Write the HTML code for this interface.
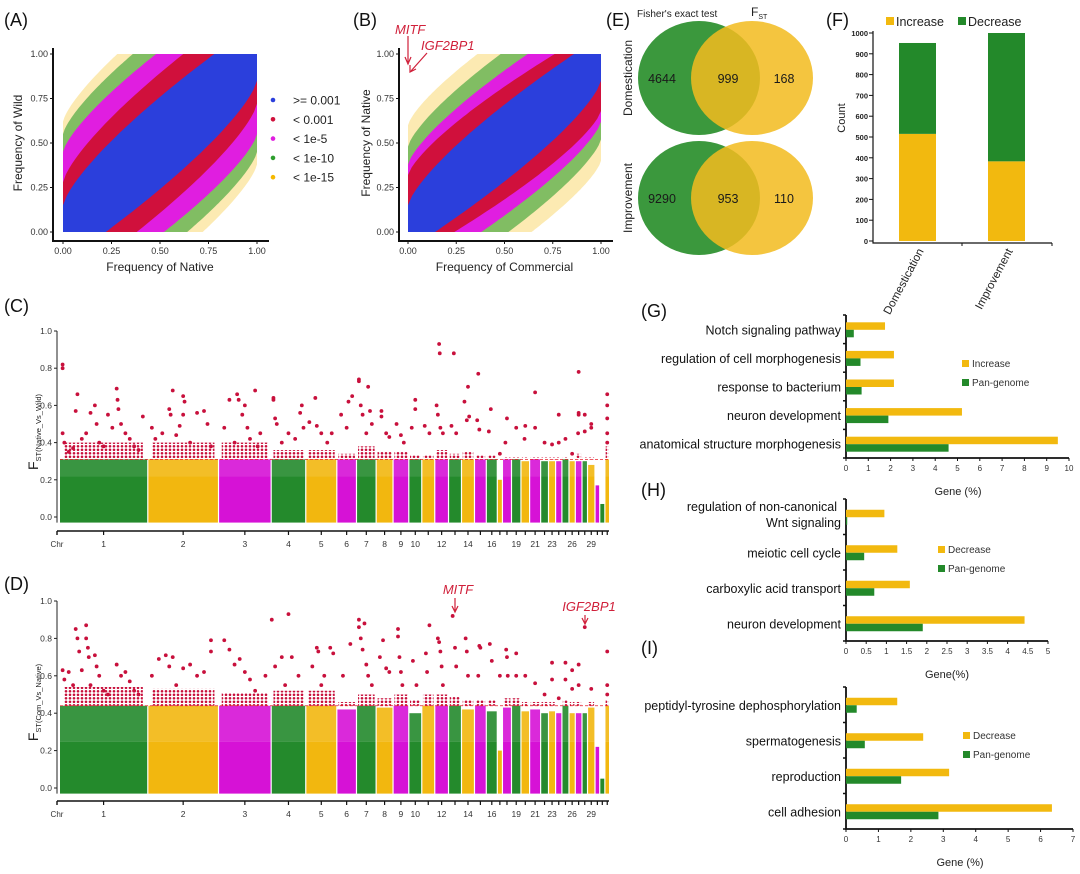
<!DOCTYPE html>
<html><head><meta charset="utf-8"><style>
body{margin:0;background:#fff;}
svg{display:block;font-family:"Liberation Sans",Arial,sans-serif;}
</style></head><body>
<svg id="fig" width="1080" height="874" viewBox="0 0 1080 874" xmlns="http://www.w3.org/2000/svg">
<defs>
<pattern id="redDots" width="4" height="3.5" patternUnits="userSpaceOnUse"><circle cx="2" cy="1.75" r="1.3" fill="#c8103c"/></pattern>
</defs>
<rect width="1080" height="874" fill="#fff"/>
</svg>
<script>
// ---------- DATA ----------
const bandLevels = ["< 1e-15","< 1e-10","< 1e-5","< 0.001",">= 0.001"];
const bandColors = ["#f5b800","#2e9e2e","#e01ee0","#d0103c","#2b3fdc"];
const bandOpacity = [0.3,0.6,1,1,1];
const aBandStartY = [0.62,0.55,0.45,0.28,0.15];
const aBandEndX   = [0.28,0.36,0.48,0.62,0.78];
const bBandStartY = [0.60,0.48,0.38,0.32,0.15];
const bBandEndX   = [0.36,0.48,0.62,0.76,0.86];
const vennDomestication = [4644,999,168];
const vennImprovement = [9290,953,110];
const fCats = ["Domestication","Improvement"];
const fIncrease = [515,383];
const fDecrease = [437,617];
const fTicks = [0,100,200,300,400,500,600,700,800,900,1000];
const gCats = ["Notch signaling pathway","regulation of cell morphogenesis","response to bacterium","neuron development","anatomical structure morphogenesis"];
const gInc = [1.75,2.15,2.15,5.2,9.5];
const gPan = [0.35,0.65,0.7,1.9,4.6];
const gTicks = [0,1,2,3,4,5,6,7,8,9,10];
const hCats = [["regulation of non-canonical","Wnt signaling"],["meiotic cell cycle"],["carboxylic acid transport"],["neuron development"]];
const hDec = [0.95,1.27,1.58,4.42];
const hPan = [0.03,0.45,0.7,1.9];
const hTicks = [0,0.5,1,1.5,2,2.5,3,3.5,4,4.5,5];
const iCats = ["peptidyl-tyrosine dephosphorylation","spermatogenesis","reproduction","cell adhesion"];
const iDec = [1.58,2.38,3.18,6.35];
const iPan = [0.33,0.58,1.7,2.85];
const iTicks = [0,1,2,3,4,5,6,7];
const chrLen = [222,177,131,85,76,47,47,40,37,30,30,32,30,30,27,25,10,20,21,19,25,17,15,13,15,13,14,11,16,9,10,9];
const chrLabels = ["1","2","3","4","5","6","7","8","9","10","","12","","14","","16","","","19","","21","","23","","","26","","","29","","",""];
const cMax = [.31,.31,.31,.31,.31,.31,.31,.31,.31,.31,.31,.31,.31,.31,.31,.31,.2,.31,.31,.3,.31,.3,.3,.3,.31,.3,.3,.3,.28,.17,.07,.31];
const dMax = [.44,.44,.44,.44,.44,.42,.44,.43,.44,.40,.44,.44,.44,.42,.44,.41,.2,.43,.44,.41,.42,.40,.41,.40,.44,.40,.40,.40,.43,.22,.05,.44];
const cBand = [.40,.40,.40,.36,.36,.34,.38,.35,.35,.33,.33,.36,.34,.35,.33,.33,.31,.32,.32,.32,.32,.32,.32,.32,.32,.31,.34,.32,.32,.31,.31,.38];
const dBand = [.54,.53,.51,.52,.52,.46,.5,.48,.5,.47,.5,.5,.49,.47,.47,.47,.44,.48,.48,.46,.46,.46,.46,.44,.47,.46,.46,.44,.46,.44,.44,.47];
const cThresh = 0.31, dThresh = 0.44;
const cPts = [[1,.03,.45],[1,.03,.82],[1,.03,.8],[1,.05,.4],[1,.1,.35],[1,.15,.37],[1,.2,.66],[1,.18,.57],[1,.25,.42],[1,.3,.45],[1,.35,.56],[1,.4,.6],[1,.42,.5],[1,.45,.4],[1,.5,.38],[1,.55,.55],[1,.6,.48],[1,.65,.69],[1,.66,.63],[1,.67,.58],[1,.7,.5],[1,.75,.45],[1,.8,.42],[1,.85,.38],[1,.9,.36],[1,.95,.54],
[2,.05,.48],[2,.1,.42],[2,.2,.45],[2,.3,.58],[2,.32,.55],[2,.35,.68],[2,.4,.44],[2,.45,.49],[2,.5,.55],[2,.5,.65],[2,.52,.62],[2,.6,.4],[2,.7,.56],[2,.8,.57],[2,.85,.5],[2,.9,.38],
[3,.1,.48],[3,.2,.63],[3,.35,.66],[3,.38,.63],[3,.5,.6],[3,.45,.55],[3,.55,.48],[3,.7,.68],[3,.6,.42],[3,.8,.45],[3,.3,.4],[3,.75,.38],
[4,.05,.64],[4,.05,.63],[4,.1,.53],[4,.15,.5],[4,.3,.4],[4,.5,.45],[4,.7,.42],[4,.85,.56],[4,.9,.6],[4,.95,.48],
[5,.1,.51],[5,.3,.64],[5,.35,.49],[5,.5,.45],[5,.7,.4],[5,.85,.45],
[6,.2,.55],[6,.5,.48],[6,.6,.62],[6,.8,.65],[7,.1,.74],[7,.1,.73],[7,.6,.7],[7,.2,.6],[7,.3,.55],[7,.7,.57],[7,.8,.5],[7,.5,.45],
[8,.3,.57],[8,.3,.54],[8,.6,.45],[8,.8,.43],[9,.2,.5],[9,.5,.44],[9,.7,.4],[10,.2,.48],[10,.5,.63],[10,.5,.58],[11,.2,.49],[11,.6,.45],
[12,.3,.93],[12,.35,.88],[12,.1,.6],[12,.2,.55],[12,.4,.48],[12,.6,.45],[13,.4,.88],[13,.2,.49],[13,.6,.45],
[14,.2,.62],[14,.5,.7],[14,.6,.54],[14,.4,.52],[15,.3,.77],[15,.2,.52],[15,.4,.47],[16,.2,.46],[16,.4,.58],[17,.5,.34],[18,.5,.53],[18,.3,.4],
[19,.5,.48],[20,.5,.49],[20,.4,.42],[21,.5,.67],[21,.5,.48],[22,.5,.4],[23,.5,.39],[24,.5,.55],[24,.5,.4],[25,.5,.42],[26,.5,.34],
[27,.5,.78],[27,.5,.56],[27,.5,.55],[27,.4,.45],[28,.5,.55],[28,.5,.46],[29,.5,.5],[29,.5,.48],[32,.5,.66],[32,.5,.6],[32,.5,.53],[32,.5,.45],[32,.5,.4]];
const dPts = [[1,.03,.63],[1,.05,.58],[1,.1,.62],[1,.15,.55],[1,.18,.85],[1,.2,.8],[1,.22,.73],[1,.3,.87],[1,.3,.8],[1,.32,.75],[1,.33,.7],[1,.25,.63],[1,.35,.55],[1,.4,.71],[1,.42,.65],[1,.45,.6],[1,.5,.52],[1,.55,.5],[1,.65,.66],[1,.7,.6],[1,.75,.62],[1,.8,.57],[1,.85,.52],[1,.9,.5],
[2,.05,.6],[2,.15,.69],[2,.25,.71],[2,.3,.65],[2,.35,.7],[2,.4,.55],[2,.5,.64],[2,.6,.66],[2,.7,.6],[2,.8,.62],[2,.9,.79],[2,.9,.73],
[3,.1,.79],[3,.2,.74],[3,.3,.66],[3,.4,.69],[3,.5,.62],[3,.6,.58],[3,.7,.52],[3,.9,.6],[4,.0,.9],[4,.1,.65],[4,.3,.7],[4,.5,.93],[4,.6,.7],[4,.8,.6],[4,.4,.55],
[5,.2,.65],[5,.35,.75],[5,.4,.73],[5,.6,.6],[5,.8,.75],[5,.9,.72],[5,.5,.55],[6,.3,.6],[6,.7,.77],[7,.1,.9],[7,.1,.86],[7,.4,.88],[7,.2,.8],[7,.3,.74],[7,.5,.66],[7,.6,.6],[7,.8,.55],
[8,.4,.79],[8,.2,.7],[8,.6,.64],[8,.8,.62],[9,.3,.85],[9,.3,.81],[9,.4,.7],[9,.5,.62],[9,.6,.55],[10,.3,.68],[10,.6,.55],[11,.3,.72],[11,.6,.87],[11,.4,.62],
[12,.2,.8],[12,.3,.78],[12,.4,.73],[12,.5,.65],[12,.6,.55],[13,.3,.92],[13,.5,.75],[13,.6,.65],[14,.3,.8],[14,.4,.73],[14,.5,.6],[15,.4,.76],[15,.5,.75],[15,.3,.6],
[16,.3,.77],[16,.5,.68],[17,.5,.6],[18,.4,.74],[18,.5,.7],[18,.6,.6],[19,.5,.72],[19,.5,.6],[20,.5,.6],[21,.5,.56],[22,.5,.5],[23,.5,.67],[23,.5,.58],[24,.5,.48],
[25,.5,.67],[25,.5,.58],[26,.5,.63],[26,.5,.53],[27,.5,.66],[27,.5,.55],[28,.5,.86],[29,.5,.53],[32,.5,.73],[32,.5,.55],[32,.5,.5]];
const chrColors = ["#248a2c","#f2b70f","#d612d6"];

// ---------- HELPERS ----------
const NS="http://www.w3.org/2000/svg";
const svg=document.getElementById('fig');
function mk(tag,attrs,parent,txt){const e=document.createElementNS(NS,tag);for(const k in attrs)e.setAttribute(k,attrs[k]);if(txt!==undefined)e.textContent=txt;(parent||svg).appendChild(e);return e;}
function grp(name){const g=mk('g',{});


return g;}
function txt(parent,x,y,s,size,name,extra){const t=mk('text',Object.assign({x:x,y:y,'font-size':size,fill:'#111'},extra||{}),parent,s);


return t;}

// ---------- PANEL A & B ----------
function scatterPanel(name,L,x0,x1,y0,y1,startY,endX,axisX,axisY,xTitle,yTitle,yTitleX){
  const g=grp(name);
  const sx=v=>x0+(x1-x0)*v, sy=v=>y0+(y1-y0)*v;
  const N=40, p=0.75;
  for(let k=0;k<startY.length;k++){
    const a=startY[k], b=endX[k];
    const up=[], lo=[];
    for(let i=0;i<=N;i++){const x=b*i/N; const y=a+(1-a)*Math.pow(x/b,p); up.push([x,y]); lo.push([1-x,1-y]);}
    let d='M'+sx(0)+','+sy(0);
    up.forEach(q=>d+=' L'+sx(q[0]).toFixed(1)+','+sy(q[1]).toFixed(1));
    d+=' L'+sx(1)+','+sy(1);
    lo.forEach(q=>d+=' L'+sx(q[0]).toFixed(1)+','+sy(q[1]).toFixed(1));
    d+=' Z';
    const pa=mk('path',{d:d,fill:bandColors[k],opacity:bandOpacity[k]},g);
    
    
  }
  const ax=mk('path',{d:`M${axisX},${y1-6} V${axisY} H${x1+12}`,stroke:'#111','stroke-width':2,fill:'none'},g);
  
  
  [0,0.25,0.5,0.75,1].forEach(v=>{
    mk('line',{x1:sx(v),x2:sx(v),y1:axisY,y2:axisY+3,stroke:'#111'},g);
    txt(g,sx(v),axisY+13,v.toFixed(2),9,'x-tick-label',{'text-anchor':'middle',fill:'#333'});
    mk('line',{x1:axisX-3,x2:axisX,y1:sy(v),y2:sy(v),stroke:'#111'},g);
    txt(g,axisX-5,sy(v)+3,v.toFixed(2),9,'y-tick-label',{'text-anchor':'end',fill:'#333'});
  });
  txt(g,(x0+x1)/2,271,xTitle,12,'x-axis-title',{'text-anchor':'middle',fill:'#222'});
  txt(g,yTitleX,(y0+y1)/2,yTitle,12,'y-axis-title',{'text-anchor':'middle',fill:'#222',transform:`rotate(-90 ${yTitleX} ${(y0+y1)/2})`});
  txt(g,L==='(A)'?4:353,26,L,18,'panel-label');
  return g;
}
scatterPanel('panel-a-scatter','(A)',63,257,232,54,aBandStartY,aBandEndX,53,241,'Frequency of Native','Frequency of Wild',22);
const gb=scatterPanel('panel-b-scatter','(B)',408,601,232,54,bBandStartY,bBandEndX,399,241,'Frequency of Commercial','Frequency of Native',370);
txt(gb,395,34,'MITF',13,'mitf-annotation',{fill:'#d0203a','font-style':'italic'});
txt(gb,421,50,'IGF2BP1',13,'igf2bp1-annotation',{fill:'#d0203a','font-style':'italic'});
mk('path',{d:'M408,36 V62 M405,57 L408,64 L411,57',stroke:'#d0203a',fill:'none','stroke-width':1.2},gb);
mk('path',{d:'M427,53 L411,71 M410,65 L410,72 L416,69',stroke:'#d0203a',fill:'none','stroke-width':1.2},gb);
const lg=grp('significance-legend');
[4,3,2,1,0].forEach((k,i)=>{
  const y=100+i*19.3;
  const c=mk('circle',{cx:273,cy:y,r:2.3,fill:bandColors[k]},lg);
  
  
  txt(lg,293,y+4.5,bandLevels[k],12,'legend-entry',{fill:'#222'});
});

// ---------- PANEL E ----------
const ge=grp('panel-e-venn');
txt(ge,606,26,'(E)',18,'panel-label');
txt(ge,637,17,"Fisher's exact test",10,'venn-left-title',{fill:'#222'});
const fst=txt(ge,751,16,'F',12,'venn-right-title',{fill:'#222'});
mk('tspan',{'font-size':7,dy:3},fst,'ST');
function venn(cy,vals,label){
  const c1=mk('ellipse',{cx:699,cy:cy,rx:61,ry:57,fill:'#3b983d'},ge);
  
  
  const c2=mk('ellipse',{cx:752,cy:cy,rx:61,ry:57,fill:'#f2bb1f',opacity:0.86},ge);
  
  
  [[662,vals[0]],[728,vals[1]],[784,vals[2]]].forEach(p=>txt(ge,p[0],cy+5,String(p[1]),12.5,'venn-count',{'text-anchor':'middle',fill:'#1a1a1a'}));
  txt(ge,632,cy,label,12,'venn-row-label',{'text-anchor':'middle',transform:`rotate(-90 632 ${cy})`,fill:'#222'});
}
venn(78,vennDomestication,'Domestication');
venn(198,vennImprovement,'Improvement');

// ---------- PANEL F ----------
const gf=grp('panel-f-stacked-bar');
txt(gf,826,26,'(F)',18,'panel-label');
const fy=v=>241-v*0.208;
mk('path',{d:`M873,31 V243 H1052`,stroke:'#111','stroke-width':1.2,fill:'none'},gf);
fTicks.forEach(v=>{mk('line',{x1:869,x2:873,y1:fy(v),y2:fy(v),stroke:'#111'},gf);
 txt(gf,868,fy(v)+3,String(v),7.5,'y-tick-label',{'text-anchor':'end','font-weight':'bold',fill:'#222'});});
[962,1052].forEach(x=>mk('line',{x1:x,x2:x,y1:243,y2:246,stroke:'#111'},gf));
txt(gf,845,118,'Count',11,'y-axis-title',{'text-anchor':'middle',transform:'rotate(-90 845 118)',fill:'#222'});
const fxs=[899,988];
fCats.forEach((c,i)=>{
  const r1=mk('rect',{x:fxs[i],y:fy(fIncrease[i]),width:37,height:fy(0)-fy(fIncrease[i]),fill:'#f2b90f'},gf);
  
  
  const r2=mk('rect',{x:fxs[i],y:fy(fIncrease[i]+fDecrease[i]),width:37,height:fy(fIncrease[i])-fy(fIncrease[i]+fDecrease[i]),fill:'#23892a'},gf);
  
  
  const ax=fxs[i]+25, ay=251;
  txt(gf,ax,ay,c,11.5,'x-tick-label',{'text-anchor':'end',transform:`rotate(-62 ${ax} ${ay})`,fill:'#222'});
});
const fl1=mk('rect',{x:886,y:17,width:8,height:8,fill:'#f2b90f'},gf);


txt(gf,896,26,'Increase',12.5,'legend-entry',{fill:'#222'});
const fl2=mk('rect',{x:958,y:17,width:8,height:8,fill:'#23892a'},gf);


txt(gf,968,26,'Decrease',12.5,'legend-entry',{fill:'#222'});

// ---------- PANELS G H I ----------
function hbar(name,label,labelY,top,bottom,xmax,xEnd,cats,v1,v2,ticks,legendX,legendY,legName,title,titleX,titleY){
  const g=grp(name);
  txt(g,641,labelY,label,18,'panel-label');
  const sx=v=>846+(xEnd-846)*v/xmax;
  mk('path',{d:`M846,${top} V${bottom} H${xEnd}`,stroke:'#111','stroke-width':1.8,fill:'none'},g);
  const n=cats.length, step=(bottom-top)/n;
  for(let i=0;i<=n;i++)mk('line',{x1:843,x2:846,y1:top+step*i,y2:top+step*i,stroke:'#111','stroke-width':1.5},g);
  ticks.forEach(v=>{mk('line',{x1:sx(v),x2:sx(v),y1:bottom,y2:bottom+3,stroke:'#111'},g);
    txt(g,sx(v),bottom+13,String(v),8,'x-tick-label',{'text-anchor':'middle',fill:'#333'});});
  cats.forEach((c,i)=>{
    const cy=top+step*(i+0.5)+1;
    const b1=mk('rect',{x:846,y:cy-8,width:sx(v1[i])-846,height:7.5,fill:'#f2b90f'},g);
    
    
    const b2=mk('rect',{x:846,y:cy-0.5,width:sx(v2[i])-846,height:7.5,fill:'#23892a'},g);
    
    
    const lines=Array.isArray(c)?c:[c];
    if(lines.length===1) txt(g,841,cy+4,lines[0],12.5,'category-label',{'text-anchor':'end'});
    else {txt(g,837,cy-7,lines[0],12.5,'category-label',{'text-anchor':'end'});txt(g,841,cy+9,lines[1],12.5,'category-label',{'text-anchor':'end'});}
  });
  const s1=mk('rect',{x:legendX,y:legendY-7,width:7,height:7,fill:'#f2b90f'},g);
  
  
  txt(g,legendX+10,legendY,legName,10,'legend-entry',{fill:'#333'});
  const s2=mk('rect',{x:legendX,y:legendY+12,width:7,height:7,fill:'#23892a'},g);
  
  
  txt(g,legendX+10,legendY+19,'Pan-genome',10,'legend-entry',{fill:'#333'});
  txt(g,titleX,titleY,title,11,'x-axis-title',{'text-anchor':'middle',fill:'#222'});
}
hbar('panel-g-go-increase','(G)',317,315,458,10,1069,gCats,gInc,gPan,gTicks,962,367,'Increase','Gene (%)',958,495);
hbar('panel-h-go-decrease','(H)',496,499,641,5,1048,hCats,hDec,hPan,hTicks,938,553,'Decrease','Gene(%)',947,678);
hbar('panel-i-go-decrease','(I)',654,687,829,7,1073,iCats,iDec,iPan,iTicks,963,739,'Decrease','Gene (%)',960,866);

// ---------- MANHATTAN C & D ----------
function manhattan(name,label,labelY,y1v,y0v,axisY,maxArr,bandArr,pts,thresh,sub,solidTo){
  const g=grp(name);
  txt(g,4,labelY,label,18,'panel-label');
  const sy=v=>y0v+(y1v-y0v)*v;
  const total=chrLen.reduce((a,b)=>a+b,0), gap=1.2, px0=60, px1=609;
  const scale=(px1-px0-gap*(chrLen.length-1))/total;
  let x=px0; const starts=[];
  chrLen.forEach((l,i)=>{starts.push(x); x+=l*scale+gap;});
  chrLen.forEach((l,i)=>{
    const w=l*scale, col=chrColors[i%3], top=Math.min(solidTo,maxArr[i]);
    const r=mk('rect',{x:starts[i],y:sy(top),width:w,height:sy(-0.03)-sy(top),fill:col},g);
    
    
    if(maxArr[i]>solidTo){
      const r2=mk('rect',{x:starts[i],y:sy(maxArr[i]),width:w,height:sy(solidTo)-sy(maxArr[i]),fill:col,opacity:0.9},g);
      
      
    }
    if(bandArr[i]>thresh){
      const r3=mk('rect',{x:starts[i]+w*0.05,y:sy(bandArr[i]),width:w*0.9,height:sy(thresh)-sy(bandArr[i]),fill:'url(#redDots)'},g);
      
      
    }
  });
  pts.forEach(p=>{const i=p[0]-1;
    const c=mk('circle',{cx:starts[i]+chrLen[i]*scale*p[1],cy:sy(p[2]),r:1.9,fill:'#c8103c'},g);
    
    });
  const tl=mk('line',{x1:60,x2:609,y1:sy(thresh),y2:sy(thresh),stroke:'#e8202a','stroke-width':0.8,'stroke-dasharray':'3,2'},g);
  
  
  mk('line',{x1:57,x2:57,y1:sy(1),y2:sy(-0.03),stroke:'#222','stroke-width':1},g);
  [0,0.2,0.4,0.6,0.8,1].forEach(v=>{mk('line',{x1:54,x2:57,y1:sy(v),y2:sy(v),stroke:'#222'},g);
    txt(g,52,sy(v)+3,v.toFixed(1),8.5,'y-tick-label',{'text-anchor':'end',fill:'#333'});});
  mk('line',{x1:57,x2:609,y1:axisY,y2:axisY,stroke:'#111','stroke-width':1.6},g);
  mk('line',{x1:57,x2:57,y1:axisY,y2:axisY+4,stroke:'#111','stroke-width':1.4},g);
  txt(g,57,axisY+16,'Chr',8,'chr-axis-title',{'text-anchor':'middle',fill:'#333'});
  chrLen.forEach((l,i)=>{const cx=starts[i]+l*scale/2;
    mk('line',{x1:cx,x2:cx,y1:axisY,y2:axisY+4,stroke:'#111','stroke-width':1.2},g);
    if(chrLabels[i])txt(g,cx,axisY+16,chrLabels[i],8.5,'chr-label',{'text-anchor':'middle',fill:'#333'});});
  const cy=(sy(1)+sy(0))/2+8;
  const t=txt(g,24,cy+14,'F',14,'y-axis-title',{transform:`rotate(-90 24 ${cy})`,fill:'#222','text-anchor':'middle'});
  mk('tspan',{'font-size':7.5,dy:3},t,sub);
  return {g,sy,starts,scale};
}
manhattan('panel-c-manhattan','(C)',312,331,517,531,cMax,cBand,cPts,cThresh,'ST(Native_Vs_Wild)',0.22);
const D=manhattan('panel-d-manhattan','(D)',590,601,788,801,dMax,dBand,dPts,dThresh,'ST(Com_Vs_Native)',0.25);
txt(D.g,458,594,'MITF',13,'mitf-annotation',{fill:'#d0203a','font-style':'italic','text-anchor':'middle'});
mk('path',{d:'M455,598 V611 M452,606 L455,612 L458,606',stroke:'#d0203a',fill:'none','stroke-width':1.2},D.g);
txt(D.g,589,611,'IGF2BP1',13,'igf2bp1-annotation',{fill:'#d0203a','font-style':'italic','text-anchor':'middle'});
mk('path',{d:'M585,615 V623 M582,618 L585,624 L588,618',stroke:'#d0203a',fill:'none','stroke-width':1.2},D.g);
</script>
</body></html>
